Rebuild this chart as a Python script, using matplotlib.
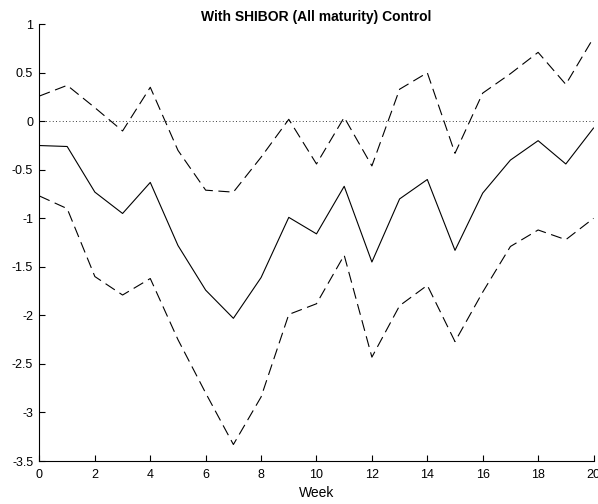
import matplotlib
matplotlib.use("Agg")
import matplotlib.pyplot as plt
from matplotlib.ticker import FuncFormatter

plt.rcParams['font.family'] = ['Liberation Sans', 'DejaVu Sans']
plt.rcParams['axes.unicode_minus'] = False

weeks = list(range(21))
response = [-0.25, -0.26, -0.73, -0.95, -0.63, -1.28, -1.74, -2.03, -1.61, -0.99,
            -1.16, -0.67, -1.45, -0.80, -0.60, -1.33, -0.74, -0.40, -0.20, -0.44, -0.07]
upper = [0.26, 0.37, 0.14, -0.10, 0.35, -0.30, -0.71, -0.73, -0.37, 0.02,
         -0.44, 0.04, -0.46, 0.33, 0.50, -0.33, 0.29, 0.49, 0.71, 0.38, 0.86]
lower = [-0.77, -0.90, -1.60, -1.79, -1.62, -2.25, -2.80, -3.33, -2.84, -1.99,
         -1.88, -1.38, -2.43, -1.90, -1.69, -2.27, -1.76, -1.29, -1.12, -1.22, -1.00]

xticks = list(range(0, 21, 2))
yticks = [1, 0.5, 0, -0.5, -1, -1.5, -2, -2.5, -3, -3.5]

fig = plt.figure(figsize=(5.98, 5.04), dpi=100)
ax = fig.add_axes([0.066, 0.0853, 0.9265, 0.8667])

lw = 0.8
ax.plot(weeks, [0] * len(weeks), color='black', lw=0.6, linestyle=(0, (1, 3)))
ax.plot(weeks, upper, color='black', lw=lw, linestyle=(0, (10, 5)))
ax.plot(weeks, lower, color='black', lw=lw, linestyle=(0, (10, 5)))
ax.plot(weeks, response, color='black', lw=lw)

ax.set_xlim(0, 20)
ax.set_ylim(-3.5, 1)
ax.set_xticks(xticks)
ax.set_yticks(yticks)
ax.yaxis.set_major_formatter(FuncFormatter(lambda v, p: ('%g' % v)))

for s in ['top', 'right']:
    ax.spines[s].set_visible(False)
for s in ['left', 'bottom']:
    ax.spines[s].set_linewidth(0.8)
ax.tick_params(direction='in', length=4, width=0.8, labelsize=9)
ax.tick_params(axis='x', pad=6)
ax.tick_params(axis='y', pad=4.5)

ax.set_xlabel('Week', fontsize=10, labelpad=3)
ax.set_title('With SHIBOR (All maturity) Control', fontsize=10, fontweight='bold', pad=2)

fig.savefig('out.png', dpi=100)
